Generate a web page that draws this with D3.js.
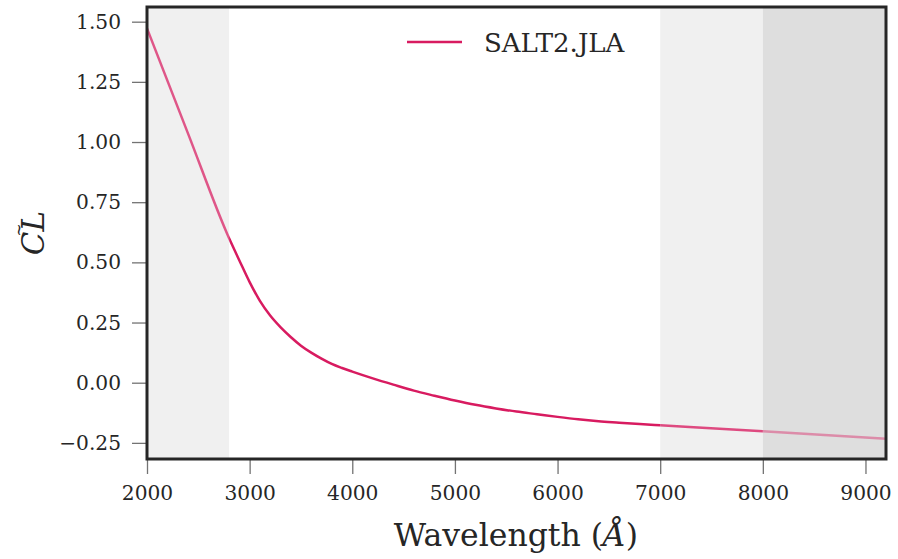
<!DOCTYPE html>
<html>
<head>
<meta charset="utf-8">
<script src="https://cdn.jsdelivr.net/npm/d3@7"></script>
<style>
  html, body { margin: 0; padding: 0; background: #ffffff; }
  svg { display: block; }
  .tick text { font-family: "DejaVu Serif", serif; fill: #262626; }
</style>
</head>
<body>
<svg id="chart" width="898" height="559"></svg>
<script>
// Colour law curve (wavelength in Angstrom, value of the colour law)
const wavelengths = [2000, 2400, 2800, 2900, 3000, 3100, 3200, 3300, 3400, 3500, 3600, 3700, 3800, 3900, 4000,
                     4200, 4400, 4600, 4800, 5000, 5200, 5400, 5600, 5800, 6000, 6200, 6400, 6600, 6800, 7000,
                     8000, 9200];
const colourLaw = [1.472, 1.035, 0.600, 0.508, 0.418, 0.340, 0.279, 0.231, 0.190, 0.154, 0.125, 0.100, 0.078, 0.061, 0.046,
                   0.018, -0.008, -0.033, -0.054, -0.074, -0.092, -0.107, -0.120, -0.131, -0.142, -0.152, -0.160, -0.166, -0.172, -0.177,
                   -0.202, -0.233];

const seriesName = "SALT2.JLA";
const xTicks = [2000, 3000, 4000, 5000, 6000, 7000, 8000, 9000];
const yTicks = [-0.25, 0, 0.25, 0.5, 0.75, 1.0, 1.25, 1.5];

// Wavelength ranges outside the trained domain, and their shading
const shadeRanges = [[2000, 2800], [7000, 8000]];
const outerRange = [8000, 9200];

// Line opacity in each wavelength interval
const lineSegments = [
  { from: 2000, to: 2800, opacity: 0.72 },
  { from: 2800, to: 7000, opacity: 1.0 },
  { from: 7000, to: 8000, opacity: 0.78 },
  { from: 8000, to: 9200, opacity: 0.42 }
];

const data = wavelengths.map((w, i) => ({ w: w, v: colourLaw[i] }));

const svg = d3.select("#chart");
const margin = { left: 147, right: 12, top: 7, bottom: 100 };
const W = 898, H = 559;
const x0 = margin.left, x1 = W - margin.right;   // 147 .. 886
const y0 = margin.top, y1 = H - margin.bottom;    // 7 .. 459

const x = d3.scaleLinear().domain([2000, 9200]).range([x0, x1]);
const y = d3.scaleLinear().domain([-0.317, 1.561]).range([y1, y0]);

const lineColour = "#d81b60";

// Shaded bands
svg.selectAll("rect.band")
  .data(shadeRanges)
  .enter().append("rect")
  .attr("class", "band")
  .attr("x", d => x(d[0]))
  .attr("width", d => x(d[1]) - x(d[0]))
  .attr("y", y0)
  .attr("height", y1 - y0)
  .attr("fill", "#f0f0f0");

svg.append("rect")
  .attr("x", x(outerRange[0]))
  .attr("width", x(outerRange[1]) - x(outerRange[0]))
  .attr("y", y0)
  .attr("height", y1 - y0)
  .attr("fill", "#dedede");

// Clip regions so the curve can change opacity across bands
const defs = svg.append("defs");
lineSegments.forEach((s, i) => {
  defs.append("clipPath").attr("id", "seg" + i)
    .append("rect")
    .attr("x", x(s.from))
    .attr("width", x(s.to) - x(s.from))
    .attr("y", y0)
    .attr("height", y1 - y0);
});

const line = d3.line()
  .x(d => x(d.w))
  .y(d => y(d.v))
  .curve(d3.curveMonotoneX);

lineSegments.forEach((s, i) => {
  svg.append("path")
    .datum(data)
    .attr("clip-path", "url(#seg" + i + ")")
    .attr("d", line)
    .attr("fill", "none")
    .attr("stroke", lineColour)
    .attr("stroke-opacity", s.opacity)
    .attr("stroke-width", 2.5);
});

// Axes
const fmtY = d3.format(".2f");
const yAxis = d3.axisLeft(y).tickValues(yTicks).tickFormat(fmtY).tickSize(15).tickSizeOuter(0).tickPadding(11);
const xAxis = d3.axisBottom(x).tickValues(xTicks).tickFormat(d3.format("d")).tickSize(15).tickSizeOuter(0).tickPadding(12);

const gy = svg.append("g").attr("transform", `translate(${x0},0)`).call(yAxis);
const gx = svg.append("g").attr("transform", `translate(0,${y1})`).call(xAxis);
[gx, gy].forEach(g => {
  g.select(".domain").remove();
  g.selectAll(".tick line").attr("stroke", "#737373").attr("stroke-width", 1.3);
  g.selectAll(".tick text").attr("font-size", 20.2);
});

// Frame
svg.append("rect")
  .attr("x", x0).attr("y", y0)
  .attr("width", x1 - x0).attr("height", y1 - y0)
  .attr("fill", "none")
  .attr("stroke", "#262626")
  .attr("stroke-width", 3);

// Legend
const legend = svg.append("g");
legend.append("line")
  .attr("x1", 407).attr("x2", 462)
  .attr("y1", 42).attr("y2", 42)
  .attr("stroke", lineColour).attr("stroke-width", 2.5);
legend.append("text")
  .attr("x", 484).attr("y", 52)
  .attr("font-family", "DejaVu Serif, serif")
  .attr("font-size", 26)
  .attr("fill", "#262626")
  .text(seriesName);

// X axis title
const xt = svg.append("text")
  .attr("x", 516).attr("y", 546)
  .attr("text-anchor", "middle")
  .attr("font-family", "DejaVu Serif, serif")
  .attr("font-size", 31.5)
  .attr("fill", "#262626");
xt.append("tspan").text("Wavelength (");
xt.append("tspan").attr("font-style", "italic").text("Å");
xt.append("tspan").text(")");

// Y axis title: tilde over CL
const yt = svg.append("g").attr("transform", `translate(44,${(y0 + y1) / 2}) rotate(-90)`);
yt.append("text")
  .attr("x", 0).attr("y", 0)
  .attr("text-anchor", "middle")
  .attr("font-family", "DejaVu Serif, serif")
  .attr("font-style", "italic")
  .attr("font-size", 31)
  .attr("fill", "#262626")
  .text("CL");
yt.append("text")
  .attr("x", 3).attr("y", -20)
  .attr("text-anchor", "middle")
  .attr("font-family", "DejaVu Serif, serif")
  .attr("font-size", 16)
  .attr("fill", "#262626")
  .text("~");
</script>
</body>
</html>
